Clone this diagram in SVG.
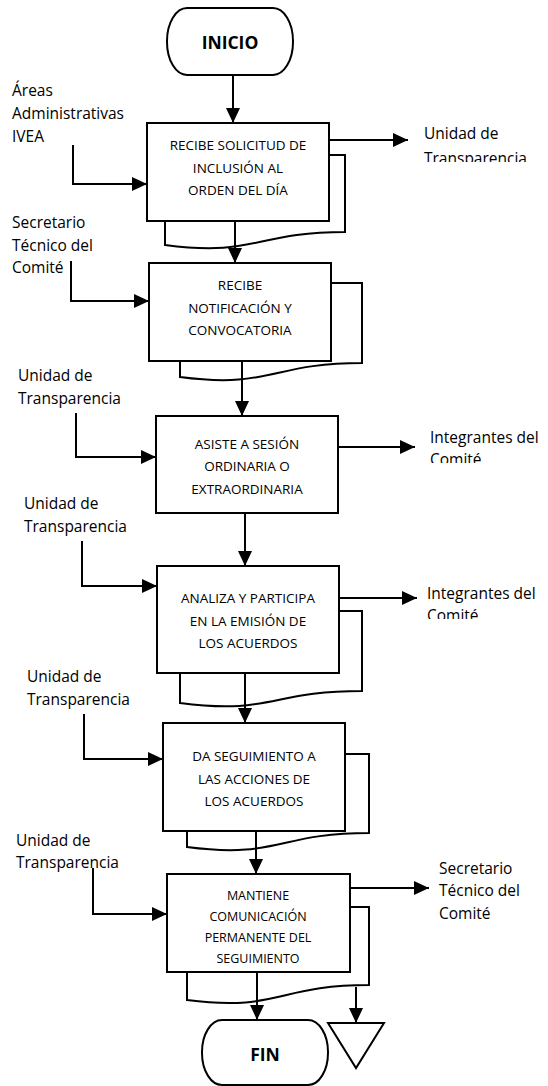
<svg xmlns="http://www.w3.org/2000/svg" width="548" height="1086" viewBox="0 0 548 1086">
  <style>
    .shape { fill: #ffffff; stroke: #000000; stroke-width: 2; }
    .line { fill: none; stroke: #000000; stroke-width: 2; }
    .arrow { fill: none; stroke: #000000; stroke-width: 2; marker-end: url(#head); }
    .bt { font-family: "Open Sans", "Liberation Sans", sans-serif; font-size: 13.5px; fill: #000000; text-anchor: middle; }
    .bt-sm { font-family: "Open Sans", "Liberation Sans", sans-serif; font-size: 12.5px; fill: #000000; text-anchor: middle; }
    .lbl { font-family: "Open Sans", "Liberation Sans", sans-serif; font-size: 15.5px; fill: #000000; }
    .term { font-family: "Open Sans", "Liberation Sans", sans-serif; font-size: 17.5px; font-weight: bold; fill: #000000; text-anchor: middle; }
  </style>
  <defs>
    <marker id="head" viewBox="0 0 15 14" markerWidth="15" markerHeight="14" markerUnits="userSpaceOnUse" refX="15" refY="7" orient="auto">
      <path d="M0,0 L15,7 L0,14 Z" fill="#000000"/>
    </marker>
    <!-- second lines of the outgoing labels are cut at their baseline -->
    <clipPath id="clip-out1"><rect x="400" y="120" width="148" height="42"/></clipPath>
    <clipPath id="clip-out3"><rect x="400" y="420" width="148" height="43"/></clipPath>
    <clipPath id="clip-out4"><rect x="400" y="575" width="148" height="44"/></clipPath>
  </defs>

  <rect width="548" height="1086" fill="#ffffff"/>

  <!-- start terminator -->
  <g id="inicio">
    <rect class="shape" x="167" y="8" width="126" height="67" rx="20" ry="33"/>
    <text class="term" x="230" y="49">INICIO</text>
  </g>

  <!-- step 1 -->
  <g id="paso1">
    <path class="shape" d="M165,155 H345 V232 C255,232 255,257 165,245 Z"/>
    <rect class="shape" x="147" y="123" width="182" height="98"/>
    <text class="bt" x="238" y="150">RECIBE SOLICITUD DE</text>
    <text class="bt" x="238" y="173">INCLUSIÓN AL</text>
    <text class="bt" x="238" y="195">ORDEN DEL DÍA</text>
  </g>

  <!-- step 2 -->
  <g id="paso2">
    <path class="shape" d="M180,283 H362 V363 C271,363 271,389 180,377 Z"/>
    <rect class="shape" x="149" y="263" width="182" height="98"/>
    <text class="bt" x="240" y="290">RECIBE</text>
    <text class="bt" x="240" y="313">NOTIFICACIÓN Y</text>
    <text class="bt" x="240" y="335">CONVOCATORIA</text>
  </g>

  <!-- step 3 -->
  <g id="paso3">
    <rect class="shape" x="156" y="416" width="182" height="97"/>
    <text class="bt" x="247" y="449">ASISTE A SESIÓN</text>
    <text class="bt" x="247" y="471">ORDINARIA O</text>
    <text class="bt" x="247" y="494">EXTRAORDINARIA</text>
  </g>

  <!-- step 4 -->
  <g id="paso4">
    <path class="shape" d="M180,611 H362 V691 C271,691 271,715 180,703 Z"/>
    <rect class="shape" x="157" y="566" width="182" height="107"/>
    <text class="bt" x="248" y="603">ANALIZA Y PARTICIPA</text>
    <text class="bt" x="248" y="626">EN LA EMISIÓN DE</text>
    <text class="bt" x="248" y="648">LOS ACUERDOS</text>
  </g>

  <!-- step 5 -->
  <g id="paso5">
    <path class="shape" d="M187,754 H369 V833 C278,833 278,859 187,847 Z"/>
    <rect class="shape" x="163" y="723" width="182" height="108"/>
    <text class="bt" x="254" y="761">DA SEGUIMIENTO A</text>
    <text class="bt" x="254" y="784">LAS ACCIONES DE</text>
    <text class="bt" x="254" y="806">LOS ACUERDOS</text>
  </g>

  <!-- step 6 -->
  <g id="paso6">
    <path class="shape" d="M187,907 H369 V985 C278,985 278,1012 187,1000 Z"/>
    <rect class="shape" x="167" y="874" width="183" height="98"/>
    <text class="bt-sm" x="258" y="899.5">MANTIENE</text>
    <text class="bt-sm" x="258" y="920.5">COMUNICACIÓN</text>
    <text class="bt-sm" x="258" y="941.5">PERMANENTE DEL</text>
    <text class="bt-sm" x="258" y="962.5">SEGUIMIENTO</text>
  </g>

  <!-- end terminator -->
  <g id="fin">
    <rect class="shape" x="202" y="1020" width="126" height="65" rx="20" ry="32"/>
    <text class="term" x="265" y="1061">FIN</text>
  </g>

  <!-- archive -->
  <g id="archivo">
    <polygon class="shape" points="328,1023 384,1023 356,1068"/>
  </g>

  <!-- incoming actors -->
  <g id="entrada1">
    <text class="lbl" x="12" y="95.5">Áreas</text>
    <text class="lbl" x="12" y="118.5">Administrativas</text>
    <text class="lbl" x="12" y="141.5">IVEA</text>
  </g>
  <g id="entrada2">
    <text class="lbl" x="12" y="227.5">Secretario</text>
    <text class="lbl" x="12" y="250.5">Técnico del</text>
    <text class="lbl" x="12" y="272.5">Comité</text>
  </g>
  <g id="entrada3">
    <text class="lbl" x="18" y="380.5">Unidad de</text>
    <text class="lbl" x="18" y="403.5">Transparencia</text>
  </g>
  <g id="entrada4">
    <text class="lbl" x="24" y="508.5">Unidad de</text>
    <text class="lbl" x="24" y="531.5">Transparencia</text>
  </g>
  <g id="entrada5">
    <text class="lbl" x="27" y="681.5">Unidad de</text>
    <text class="lbl" x="27" y="704.5">Transparencia</text>
  </g>
  <g id="entrada6">
    <text class="lbl" x="16" y="845.5">Unidad de</text>
    <text class="lbl" x="16" y="867.5">Transparencia</text>
  </g>

  <!-- outgoing actors -->
  <g id="salida1" clip-path="url(#clip-out1)">
    <text class="lbl" x="424" y="138.5">Unidad de</text>
    <text class="lbl" x="424" y="163.5">Transparencia</text>
  </g>
  <g id="salida3" clip-path="url(#clip-out3)">
    <text class="lbl" x="430" y="442.5">Integrantes del</text>
    <text class="lbl" x="430" y="464.5">Comité</text>
  </g>
  <g id="salida4" clip-path="url(#clip-out4)">
    <text class="lbl" x="427" y="598.5">Integrantes del</text>
    <text class="lbl" x="427" y="620.5">Comité</text>
  </g>
  <g id="salida6">
    <text class="lbl" x="439" y="873.5">Secretario</text>
    <text class="lbl" x="439" y="895.5">Técnico del</text>
    <text class="lbl" x="439" y="918.5">Comité</text>
  </g>

  <!-- connectors -->
  <g id="conectores">
    <!-- main flow -->
    <path class="arrow" d="M233,75 V123"/>
    <path class="arrow" d="M235,221 V263"/>
    <path class="arrow" d="M242,361 V416"/>
    <path class="arrow" d="M245,513 V566"/>
    <path class="arrow" d="M245,673 V723"/>
    <path class="arrow" d="M256,831 V874"/>
    <path class="arrow" d="M257,972 V1020"/>
    <path class="arrow" d="M356,987 V1023"/>
    <!-- inputs -->
    <path class="arrow" d="M73,145 V184 H147"/>
    <path class="arrow" d="M71,261 V301 H149"/>
    <path class="arrow" d="M76,413 V457 H156"/>
    <path class="arrow" d="M82,541 V586 H157"/>
    <path class="arrow" d="M84,714 V759 H163"/>
    <path class="arrow" d="M93,868 V914 H167"/>
    <!-- outputs -->
    <path class="arrow" d="M329,140 H408"/>
    <path class="arrow" d="M338,447 H415"/>
    <path class="arrow" d="M339,598 H417"/>
    <path class="arrow" d="M350,888 H429"/>
  </g>
</svg>
